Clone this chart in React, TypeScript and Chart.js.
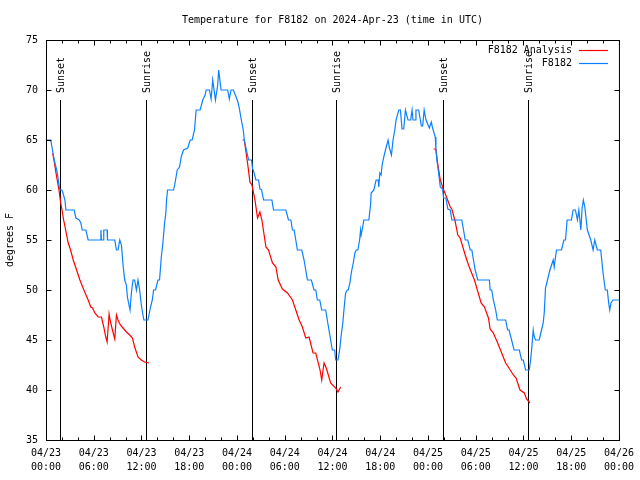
import React, { useEffect, useRef } from "react";
import { Chart, registerables } from "chart.js";

Chart.register(...registerables);

const FONT = "'DejaVu Sans Mono', 'Liberation Mono', monospace";

const titleText = "Temperature for F8182 on 2024-Apr-23 (time in UTC)";
const yAxisTitle = "degrees F";
const seriesNames = ["F8182 Analysis", "F8182"];
const seriesColors = ["#ff0000", "#0a80ff"];

// hours since 2024-04-23 00:00 UTC
const obsHours = [
  0, 0.59, 0.75, 0.88, 1.09, 1.34, 1.5, 1.63, 1.75, 2.0, 2.13, 2.38, 2.5, 3.54, 3.76, 4.17, 4.38, 4.55, 5.01, 5.3,
  6.85, 6.9, 6.97, 7.2, 7.26, 7.68, 7.72, 8.64, 8.85, 9.05, 9.27, 9.48, 9.68, 9.89, 10.1, 10.23, 10.43, 10.56, 10.73,
  10.93, 11.14, 11.36, 11.56, 11.77, 11.98, 12.18, 12.31, 12.81, 12.94, 13.11, 13.36, 13.52, 13.77, 14.06, 14.27,
  14.49, 14.69, 14.9, 15.06, 15.15, 15.28, 16.03, 16.24, 16.49, 16.78, 16.99, 17.28, 17.82, 18.12, 18.37, 18.66,
  18.87, 19.37, 19.7, 20.0, 20.12, 20.54, 20.75, 20.95, 21.29, 21.58, 21.7, 22.0, 22.83, 23.04, 23.25, 23.54, 23.79,
  24.08, 24.29, 24.5, 24.79, 24.92, 25.21, 25.46, 25.83, 25.96, 26.05, 26.38, 26.71, 26.88, 27.09, 27.34, 28.39,
  28.59, 30.14, 30.47, 30.77, 30.97, 31.18, 31.39, 31.59, 32.14, 32.43, 32.64, 32.85, 33.35, 33.68, 33.9, 34.1, 34.4,
  34.65, 35.15, 35.35, 35.56, 35.77, 35.98, 36.28, 36.4, 36.69, 36.9, 37.1, 37.31, 37.44, 37.65, 37.85, 37.98, 38.19,
  38.36, 38.61, 38.82, 38.98, 39.19, 39.41, 39.53, 39.6, 39.73, 39.94, 40.57, 40.78, 40.86, 41.2, 41.48, 41.74, 41.82,
  41.95, 42.11, 42.24, 42.45, 42.66, 42.99, 43.16, 43.41, 43.61, 43.83, 43.99, 44.33, 44.54, 44.74, 44.95, 45.17,
  45.49, 45.83, 46.0, 46.12, 46.42, 46.49, 46.83, 47.17, 47.33, 47.52, 47.75, 48.17, 48.42, 48.58, 48.92, 49.0, 49.12,
  49.34, 49.55, 49.84, 49.96, 50.25, 50.5, 50.8, 51.0, 52.25, 52.47, 52.68, 53.0, 53.31, 53.51, 53.72, 53.93, 54.26,
  55.72, 55.81, 56.01, 56.22, 56.51, 56.72, 57.76, 58.01, 58.19, 58.51, 58.82, 59.48, 59.77, 59.98, 60.27, 60.73,
  60.9, 61.02, 61.23, 61.36, 61.52, 61.98, 62.27, 62.48, 62.61, 62.77, 63.02, 63.32, 63.74, 63.86, 64.15, 64.78,
  65.08, 65.28, 65.49, 66.03, 66.24, 66.53, 66.78, 66.96, 67.21, 67.37, 67.53, 67.71, 68.03, 68.46, 68.75, 68.96,
  69.29, 69.71, 70.0, 70.29, 70.54, 70.71, 70.84, 71.0, 71.25, 72.0,
];
const obsTemps = [
  65, 65, 64.3, 63.7, 62.8, 62, 61.3, 60.5, 60, 60, 59.7, 59, 58, 58, 57.2, 57, 56.7, 56, 56, 55,
  55, 56, 55, 55, 56, 56, 55, 55, 54, 54, 55, 54.5, 52.5, 51, 50.5, 49.3, 48.5, 48, 49.7,
  51, 51, 50, 51, 50, 48.5, 47.5, 47, 47, 47.5, 48.2, 49, 50, 50, 51, 51,
  53.3, 54.7, 56.7, 57.7, 59, 60, 60, 60.8, 62, 62.3, 63.3, 64, 64.2, 65, 65, 66,
  68, 68, 69, 69.5, 70, 70, 69.1, 71, 69, 70.5, 72, 70, 70, 69.1, 70, 70, 69.5,
  68.9, 68.2, 67.2, 66, 65, 63.9, 63, 63, 62.1, 62, 61, 61, 60.1, 60, 59, 59,
  58, 58, 57, 57, 56, 56, 55, 54, 54, 53, 52, 51, 51, 50, 50, 49, 49,
  48, 48, 47, 46, 45, 44, 44, 43, 43, 44, 45.5, 46.8, 48, 49.7, 50, 50, 50.7,
  51.7, 52.7, 53.7, 54, 54, 55, 56, 55.5, 56, 57, 57, 58.5, 59.7, 60, 61, 61, 60.3,
  61.7, 61.5, 62.5, 63.3, 64, 65, 64.2, 63.5, 65, 66, 67, 68, 68, 66.1, 66.1, 68,
  67, 67, 68, 67, 67, 68, 68, 66.4, 66.4, 68, 67, 66.2, 66.8, 66.2, 65.3, 64, 63,
  61.7, 60.3, 60.1, 59.2, 59.2, 58.1, 58, 57, 57, 56, 55, 55, 54, 54, 53, 52, 51,
  51, 50, 50, 49, 48, 47, 47, 46, 46, 45, 44, 44, 43, 43, 42, 42,
  43, 44, 46, 45.3, 45, 45, 46, 46.7, 47.7, 50.2, 51, 52, 53, 52.3, 54, 54,
  55, 55, 57, 57, 58, 58, 57, 58, 56, 58.2, 59, 58.3, 56, 55, 54, 55,
  54, 54, 51.7, 50, 50, 48.7, 48, 48.7, 49, 49,
];

const anaHours = [
  0.84, 1.04, 1.34, 1.63, 1.75, 1.84, 1.97, 2.17, 2.47, 2.79, 3.09, 3.42, 3.76, 4.26, 4.76, 5.3, 5.63, 5.85, 6.14,
  6.55, 6.97, 7.26, 7.51, 7.68, 7.93, 8.05, 8.35, 8.64, 8.85, 9.05, 9.35, 9.68, 10.1, 10.52, 10.86, 11.14, 11.56,
  11.98, 12.4, 12.94,
  18,
  24.71, 24.92, 25.04, 25.33, 25.63, 25.88, 26.26, 26.58, 26.88, 27.13, 27.64, 27.96, 28.46, 28.89, 29.18, 29.71,
  30.34, 30.97, 31.39, 31.81, 32.22, 32.64, 33.06, 33.56, 33.9, 34.44, 34.65, 34.94, 35.22, 35.77, 36.4, 36.69, 37.03,
  42,
  48.71, 49.0, 49.21, 49.55, 49.88, 50.38, 50.8, 51.0, 51.43, 51.75, 52.05, 52.68, 53.09, 53.84, 54.68, 55.1, 55.6,
  55.81, 56.22, 56.76, 57.26, 57.76, 58.1, 58.73, 59.07, 59.57, 60.11, 60.39, 60.82,
];
const anaTemps = [
  63.7, 62.8, 61.3, 60, 59.3, 58.7, 58.2, 57.2, 56, 54.7, 54, 53, 52.2, 51, 50, 49, 48.3, 48.2, 47.7,
  47.3, 47.3, 46.3, 45.3, 44.8, 47.6, 47, 46, 45.1, 47.5, 47, 46.5, 46.2, 45.8, 45.5, 45.2, 44.3, 43.3,
  43, 42.8, 42.7,
  null,
  65, 65, 64.3, 62.7, 60.8, 60.5, 59, 57.2, 57.8, 57, 54.3, 54, 52.7, 52.3, 51, 50.1,
  49.7, 49, 48, 47, 46.3, 45.2, 45.3, 43.7, 43.7, 42, 41, 42.7, 42.2, 40.7, 40.2, 39.8, 40.3,
  null,
  64.1, 64.1, 62.7, 61, 60.2, 59.2, 58.3, 58.1, 56.8, 55.5, 55.2, 53.5, 52.5, 51, 48.7, 48.3, 47.2,
  46.1, 45.7, 44.7, 43.7, 42.7, 42.3, 41.5, 41.2, 40, 39.7, 39.1, 38.7,
];

const sunHours = [1.8, 12.57, 25.88, 36.48, 49.88, 60.52];
const sunLabels = ["Sunset", "Sunrise", "Sunset", "Sunrise", "Sunset", "Sunrise"];
const sunLineTop = 69;

const xMin = 0;
const xMax = 72;
const xMajorStep = 6;
const xMinorStep = 2;
const yMin = 35;
const yMax = 75;
const yStep = 5;
const startMonth = "04";
const startDay = 23;

function pad2(n: number) {
  return n < 10 ? "0" + n : String(n);
}
function hourLabel(h: number): string[] {
  const day = startDay + Math.floor(h / 24);
  const hh = Math.round(h % 24);
  return [startMonth + "/" + pad2(day), pad2(hh) + ":00"];
}

const gnuplotDecor = {
  id: "gnuplotDecor",
  beforeDatasetsDraw(chart: any) {
    const { ctx, chartArea: a, scales } = chart;
    const x = scales.x;
    const y = scales.y;
    ctx.save();
    ctx.strokeStyle = "#000";
    ctx.lineWidth = 1;
    ctx.fillStyle = "#000";
    ctx.font = "10px " + FONT;
    sunHours.forEach((h, i) => {
      const px = Math.round(x.getPixelForValue(h)) + 0.5;
      const py = Math.round(y.getPixelForValue(sunLineTop));
      ctx.beginPath();
      ctx.moveTo(px, py);
      ctx.lineTo(px, a.bottom);
      ctx.stroke();
      ctx.save();
      ctx.translate(px + 1, py - 7);
      ctx.rotate(-Math.PI / 2);
      ctx.textAlign = "left";
      ctx.textBaseline = "middle";
      ctx.fillText(sunLabels[i], 0, 0);
      ctx.restore();
    });
    ctx.restore();
  },
  afterDatasetsDraw(chart: any) {
    const { ctx, chartArea: a, scales } = chart;
    const x = scales.x;
    const y = scales.y;
    ctx.save();
    ctx.strokeStyle = "#000";
    ctx.lineWidth = 1;
    const L = a.left + 0.5;
    const R = a.right + 0.5;
    const T = a.top + 0.5;
    const B = a.bottom + 0.5;
    ctx.strokeRect(L, T, R - L, B - T);
    ctx.beginPath();
    for (let h = xMin; h <= xMax; h += xMinorStep) {
      const len = h % xMajorStep === 0 ? 5 : 3;
      const px = Math.round(x.getPixelForValue(h)) + 0.5;
      ctx.moveTo(px, B);
      ctx.lineTo(px, B - len);
      ctx.moveTo(px, T);
      ctx.lineTo(px, T + len);
    }
    for (let v = yMin; v <= yMax; v += yStep) {
      const py = Math.round(y.getPixelForValue(v)) + 0.5;
      ctx.moveTo(L, py);
      ctx.lineTo(L + 5, py);
      ctx.moveTo(R, py);
      ctx.lineTo(R - 5, py);
    }
    ctx.stroke();

    // title
    ctx.fillStyle = "#000";
    ctx.font = "10px " + FONT;
    ctx.textAlign = "center";
    ctx.textBaseline = "middle";
    ctx.fillText(titleText, (a.left + a.right) / 2, 20);

    // legend (key)
    ctx.textAlign = "right";
    seriesNames.forEach((name, i) => {
      const ry = a.top + 10 + i * 13 + 0.5;
      ctx.fillStyle = "#000";
      ctx.fillText(name, a.right - 47, ry);
      ctx.strokeStyle = seriesColors[i];
      ctx.lineWidth = 1.2;
      ctx.beginPath();
      ctx.moveTo(a.right - 40, ry);
      ctx.lineTo(a.right - 11, ry);
      ctx.stroke();
    });
    ctx.restore();
  },
};

export default function App() {
  const canvasRef = useRef<HTMLCanvasElement | null>(null);

  useEffect(() => {
    const canvas = canvasRef.current;
    if (!canvas) return;
    const obsData = obsHours.map((h, i) => ({ x: h, y: obsTemps[i] }));
    const anaData = anaHours.map((h, i) => ({ x: h, y: anaTemps[i] }));
    const xTickValues: number[] = [];
    for (let h = xMin; h <= xMax; h += xMajorStep) xTickValues.push(h);

    const chart = new Chart(canvas, {
      type: "line",
      data: {
        datasets: [
          {
            label: seriesNames[0],
            data: anaData as any,
            borderColor: seriesColors[0],
            borderWidth: 1.2,
            pointRadius: 0,
            tension: 0,
            spanGaps: false,
            order: 1,
          },
          {
            label: seriesNames[1],
            data: obsData as any,
            borderColor: seriesColors[1],
            borderWidth: 1.2,
            pointRadius: 0,
            tension: 0,
            order: 0,
          },
        ],
      },
      options: {
        responsive: false,
        animation: false,
        devicePixelRatio: 1,
        layout: { padding: { left: 0, right: 19, top: 40, bottom: 0 } },
        plugins: {
          legend: { display: false },
          title: { display: false },
          tooltip: { enabled: false },
        },
        scales: {
          x: {
            type: "linear",
            min: xMin,
            max: xMax,
            grid: { display: false, drawTicks: false },
            border: { display: false },
            afterBuildTicks: (scale: any) => {
              scale.ticks = xTickValues.map((v) => ({ value: v }));
            },
            afterFit: (scale: any) => {
              scale.height = 40;
            },
            ticks: {
              autoSkip: false,
              maxRotation: 0,
              minRotation: 0,
              padding: 6,
              color: "#000",
              font: { family: FONT, size: 10, lineHeight: 1.4 },
              callback: (v: any) => hourLabel(Number(v)),
            },
          },
          y: {
            type: "linear",
            min: yMin,
            max: yMax,
            grid: { display: false, drawTicks: false },
            border: { display: false },
            afterFit: (scale: any) => {
              scale.width = 46;
            },
            ticks: {
              stepSize: yStep,
              padding: 8,
              color: "#000",
              font: { family: FONT, size: 10 },
            },
            title: {
              display: true,
              text: yAxisTitle,
              color: "#000",
              font: { family: FONT, size: 10 },
              padding: { top: 4, bottom: 4 },
            },
          },
        },
      },
      plugins: [gnuplotDecor],
    });
    return () => chart.destroy();
  }, []);

  return (
    <div style={{ position: "fixed", left: 0, top: 0, width: 640, height: 480, background: "#fff" }}>
      <canvas ref={canvasRef} width={640} height={480} style={{ display: "block", width: 640, height: 480 }} />
    </div>
  );
}
